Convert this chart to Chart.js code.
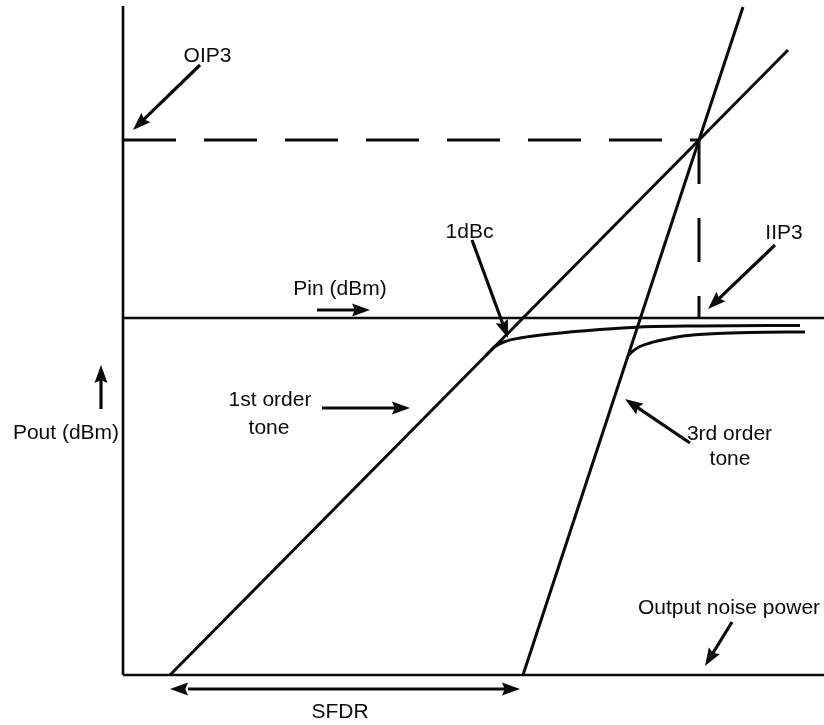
<!DOCTYPE html>
<html>
<head>
<meta charset="utf-8">
<script src="https://cdn.jsdelivr.net/npm/chart.js@4.4.1/dist/chart.umd.min.js"></script>
<style>
  html, body { margin: 0; padding: 0; background: #fff; }
  canvas { display: block; }
</style>
</head>
<body>
<canvas id="c" width="824" height="725"></canvas>
<script>
// Two-tone linearity diagram: output power of the fundamental and of the
// third-order product versus input power (arbitrary dB units, noise floor = 0).

// Frame of the diagram
const pinAxisLevel = 71.4;          // Pout level drawn as the Pin (dBm) axis
const frameTop = 133.8;             // top of the Pout axis
const frameRight = 140.2;           // right end of the horizontal lines

// Intercept point
const iip3 = 115.2;                 // input intercept
const oip3 = 107;                   // output intercept

// Straight (small-signal) responses
const firstOrderTone = [[9.4, 0], [iip3, oip3], [133, 125]];
const thirdOrderTone = [[80, 0], [iip3, oip3], [124, 133.6]];

// Compressed responses
const firstOrderCompressed = [
  [72.6, 63.9], [74.4, 65.7], [76.4, 66.7], [79.4, 67.4], [85.4, 68.2],
  [95.4, 69.1], [103.4, 69.6], [115.4, 69.8], [135.4, 69.9]
];
const thirdOrderCompressed = [
  [101, 63.9], [102, 64.8], [103.4, 65.7], [105.4, 66.4], [108.8, 67.2],
  [112, 67.8], [118.8, 68.3], [125.4, 68.5], [136.4, 68.6]
];

// Text labels: [text, centre x, baseline y]
const labelTexts = ['OIP3', '1dBc', 'Pin (dBm)', 'IIP3', '1st order', 'tone',
                    'Pout (dBm)', '3rd order', 'tone', 'Output noise power', 'SFDR'];
const labelX = [16.9, 69.3, 43.4, 132.2, 29.4, 29.2, -11.4, 121.3, 121.4, 121.2, 43.4];
const labelY = [122.6, 87.4, 76, 87.3, 53.8, 48.3, 47.3, 47.1, 42, 12.2, -8.6];

// Pointer arrows: [from x, from y, tip x, tip y, double-headed]
const arrows = [
  [15.4, 122, 2, 109, false],          // OIP3
  [69.8, 87, 77, 67.4, false],         // 1dBc
  [38.8, 73, 49.4, 73, false],         // Pin direction
  [130.4, 86, 117, 73.2, false],       // IIP3
  [39.8, 53.4, 57.4, 53.4, false],     // 1st order tone
  [-4.4, 53.2, -4.4, 62, false],       // Pout direction
  [113.4, 46.4, 100.4, 55.2, false],   // 3rd order tone
  [121.8, 10.6, 116.4, 1.8, false],    // output noise power
  [9.4, -2.8, 79.4, -2.8, true]        // SFDR span
];

const toPts = arr => arr.map(p => ({ x: p[0], y: p[1] }));
const ink = '#0a0a0a';

function lineSet(points, width, extra) {
  return Object.assign({
    data: toPts(points),
    showLine: true,
    borderColor: ink,
    borderWidth: width,
    pointRadius: 0,
    pointHoverRadius: 0,
    fill: false
  }, extra || {});
}

function drawArrow(ctx, x1, y1, x2, y2, both) {
  const head = 18, half = 6.5;
  const ang = Math.atan2(y2 - y1, x2 - x1);
  const cos = Math.cos(ang), sin = Math.sin(ang);
  const sx = both ? x1 + cos * head : x1, sy = both ? y1 + sin * head : y1;
  ctx.lineWidth = 3.2;
  ctx.beginPath();
  ctx.moveTo(sx, sy);
  ctx.lineTo(x2 - cos * head * 0.8, y2 - sin * head * 0.8);
  ctx.stroke();
  const tri = (tx, ty, c, s) => {
    ctx.beginPath();
    ctx.moveTo(tx, ty);
    ctx.lineTo(tx - c * head - s * half, ty - s * head + c * half);
    ctx.lineTo(tx - c * head * 0.85, ty - s * head * 0.85);
    ctx.lineTo(tx - c * head + s * half, ty - s * head - c * half);
    ctx.closePath();
    ctx.fill();
  };
  tri(x2, y2, cos, sin);
  if (both) tri(x1, y1, -cos, -sin);
}

const annotations = {
  id: 'annotations',
  afterDatasetsDraw(chart) {
    const { ctx, scales: { x, y } } = chart;
    ctx.save();
    ctx.fillStyle = ink;
    ctx.strokeStyle = ink;
    ctx.font = '21px "Liberation Sans", Arial, sans-serif';
    ctx.textAlign = 'center';
    ctx.textBaseline = 'alphabetic';
    labelTexts.forEach((t, i) => {
      ctx.fillText(t, x.getPixelForValue(labelX[i]), y.getPixelForValue(labelY[i]));
    });
    arrows.forEach(a => {
      drawArrow(ctx, x.getPixelForValue(a[0]), y.getPixelForValue(a[1]),
                x.getPixelForValue(a[2]), y.getPixelForValue(a[3]), a[4]);
    });
    ctx.restore();
  }
};

new Chart(document.getElementById('c'), {
  type: 'scatter',
  data: {
    datasets: [
      lineSet([[0, 0], [0, frameTop]], 2.6),                         // Pout axis
      lineSet([[0, 0], [frameRight, 0]], 2.6),                       // noise floor
      lineSet([[0, pinAxisLevel], [frameRight, pinAxisLevel]], 2.6), // Pin axis
      lineSet([[0, oip3], [iip3, oip3]], 3, { borderDash: [53, 28] }),
      lineSet([[iip3, oip3], [iip3, pinAxisLevel]], 3, { borderDash: [44, 34] }),
      lineSet(firstOrderTone, 3),
      lineSet(thirdOrderTone, 3),
      lineSet(firstOrderCompressed, 3, { cubicInterpolationMode: 'monotone' }),
      lineSet(thirdOrderCompressed, 3, { cubicInterpolationMode: 'monotone' })
    ]
  },
  options: {
    responsive: false,
    animation: false,
    devicePixelRatio: 1,
    layout: { padding: 0 },
    plugins: { legend: { display: false }, tooltip: { enabled: false } },
    events: [],
    scales: {
      x: { type: 'linear', min: -24.6, max: 140.2, display: false },
      y: { type: 'linear', min: -10, max: 135, display: false }
    }
  },
  plugins: [annotations]
});
</script>
</body>
</html>
